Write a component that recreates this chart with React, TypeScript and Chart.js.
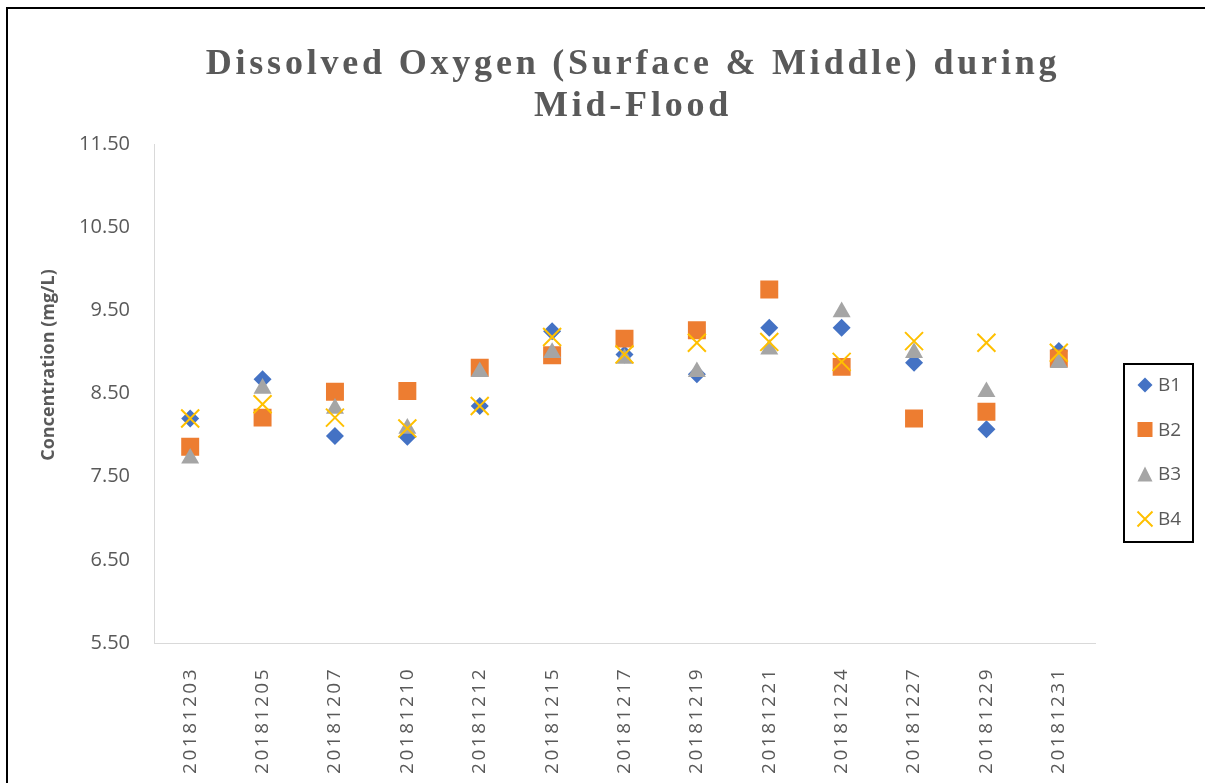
import React, { useEffect, useRef } from 'react';
import { Chart, registerables } from 'chart.js';

Chart.register(...registerables);

const categories = ['20181203', '20181205', '20181207', '20181210', '20181212', '20181215', '20181217', '20181219', '20181221', '20181224', '20181227', '20181229', '20181231'];
const b1 = [8.20, 8.67, 7.99, 7.98, 8.35, 9.25, 8.97, 8.73, 9.29, 9.29, 8.87, 8.07, 9.01];
const b2 = [7.86, 8.21, 8.52, 8.53, 8.81, 8.96, 9.16, 9.26, 9.75, 8.82, 8.20, 8.28, 8.92];
const b3 = [7.72, 8.56, 8.32, 8.08, 8.76, 8.99, 8.92, 8.76, 9.03, 9.48, 8.99, 8.52, 8.87];
const b4 = [8.20, 8.37, 8.21, 8.08, 8.35, 9.18, 8.97, 9.11, 9.12, 8.88, 9.13, 9.11, 8.99];
const yMin = 5.5;
const yMax = 11.5;
const yStep = 1;
const titleLines = ['Dissolved Oxygen (Surface & Middle) during', 'Mid-Flood'];
const yTitle = 'Concentration (mg/L)';
const seriesNames = ['B1', 'B2', 'B3', 'B4'];

const COLORS = ['#4472C4', '#ED7D31', '#A5A5A5', '#FFC000'];
const TEXT = '#595959';

function drawMarker(ctx: CanvasRenderingContext2D, kind: number, x: number, y: number, half: number) {
  ctx.save();
  ctx.beginPath();
  if (kind === 0) {
    ctx.moveTo(x, y - half); ctx.lineTo(x + half, y); ctx.lineTo(x, y + half); ctx.lineTo(x - half, y); ctx.closePath();
    ctx.fillStyle = COLORS[0]; ctx.fill();
  } else if (kind === 1) {
    ctx.fillStyle = COLORS[1]; ctx.fillRect(x - half, y - half, half * 2, half * 2);
  } else if (kind === 2) {
    ctx.moveTo(x, y - half); ctx.lineTo(x + half, y + half); ctx.lineTo(x - half, y + half); ctx.closePath();
    ctx.fillStyle = COLORS[2]; ctx.fill();
  } else {
    ctx.moveTo(x - half, y - half); ctx.lineTo(x + half, y + half);
    ctx.moveTo(x + half, y - half); ctx.lineTo(x - half, y + half);
    ctx.strokeStyle = COLORS[3]; ctx.lineWidth = 2; ctx.stroke();
  }
  ctx.restore();
}

const decorPlugin = {
  id: 'decor',
  afterDatasetsDraw(chart: any) {
    (chart.ctx as any).letterSpacing = '2.5px';
  },
  afterDraw(chart: any) {
    const ctx = chart.ctx as CanvasRenderingContext2D;
    (ctx as any).letterSpacing = '0px';
    // title
    ctx.save();
    (ctx as any).letterSpacing = '3.8px';
    ctx.fillStyle = TEXT;
    ctx.font = 'bold 36px "Liberation Serif", "Times New Roman", serif';
    ctx.textAlign = 'center';
    ctx.textBaseline = 'middle';
    ctx.fillText(titleLines[0], 625, 56);
    ctx.fillText(titleLines[1], 625, 98);
    ctx.restore();
    // y-axis title
    ctx.save();
    ctx.fillStyle = TEXT;
    ctx.font = 'bold 18px "Open Sans", sans-serif';
    ctx.translate(41, 356);
    ctx.rotate(-Math.PI / 2);
    ctx.textAlign = 'center';
    ctx.textBaseline = 'middle';
    ctx.fillText(yTitle, 0, 0);
    ctx.restore();
    // legend
    ctx.save();
    ctx.strokeStyle = '#000000';
    ctx.lineWidth = 2;
    ctx.strokeRect(1116, 355, 69, 178);
    const ys = [376, 420.5, 465, 510];
    ctx.font = '19px "Open Sans", sans-serif';
    ctx.textAlign = 'left';
    ctx.textBaseline = 'middle';
    for (let i = 0; i < 4; i++) {
      drawMarker(ctx, i, 1137, ys[i], 7.5);
      ctx.fillStyle = TEXT;
      ctx.fillText(seriesNames[i], 1150, ys[i] + 1);
    }
    ctx.restore();
  },
};

export default function App() {
  const ref = useRef<HTMLCanvasElement>(null);
  useEffect(() => {
    document.documentElement.style.overflow = 'hidden';
    document.body.style.overflow = 'hidden';
    const canvas = ref.current!;
    const mk = (label: string, data: number[], idx: number, style: string, radius: number, order: number) => ({
      label,
      data,
      showLine: false,
      pointStyle: style,
      pointRadius: radius,
      pointHoverRadius: radius,
      backgroundColor: COLORS[idx],
      borderColor: COLORS[idx],
      pointBorderWidth: idx === 3 ? 2 : 0,
      order,
    });
    const chart = new Chart(canvas, {
      type: 'line',
      data: {
        labels: categories,
        datasets: [
          mk(seriesNames[0], b1, 0, 'rectRot', 9, 4),
          mk(seriesNames[1], b2, 1, 'rect', 12.7, 3),
          mk(seriesNames[2], b3, 2, 'triangle', 10.4, 2),
          mk(seriesNames[3], b4, 3, 'crossRot', 12.7, 1),
        ] as any,
      },
      options: {
        animation: false,
        responsive: false,
        devicePixelRatio: 1,
        layout: { padding: { top: 135, right: 119, left: 0, bottom: 0 } },
        plugins: { legend: { display: false }, title: { display: false }, tooltip: { enabled: false } },
        scales: {
          x: {
            type: 'category',
            offset: true,
            grid: { display: false },
            border: { display: true, color: '#D9D9D9', width: 1 },
            ticks: {
              autoSkip: false,
              minRotation: 90,
              maxRotation: 90,
              padding: 16,
              color: TEXT,
              z: 1,
              font: { family: '"Open Sans", sans-serif', size: 19 },
            },
            afterFit(scale: any) { scale.height = 152; },
          },
          y: {
            min: yMin,
            max: yMax,
            grid: { display: false },
            border: { display: true, color: '#D9D9D9', width: 1 },
            ticks: {
              stepSize: yStep,
              padding: 16,
              color: TEXT,
              font: { family: '"Open Sans", sans-serif', size: 20 },
              callback: (v: any) => Number(v).toFixed(2),
            },
            afterFit(scale: any) { scale.width = 146; },
          },
        },
      } as any,
      plugins: [decorPlugin],
    });
    return () => chart.destroy();
  }, []);
  return (
    <div style={{ position: 'fixed', left: 6, top: 7, width: 1210, height: 790, border: '2px solid #000', boxSizing: 'border-box', background: '#fff' }}>
      <canvas ref={ref} width={1206} height={786} style={{ display: 'block', width: 1206, height: 786 }} />
    </div>
  );
}
